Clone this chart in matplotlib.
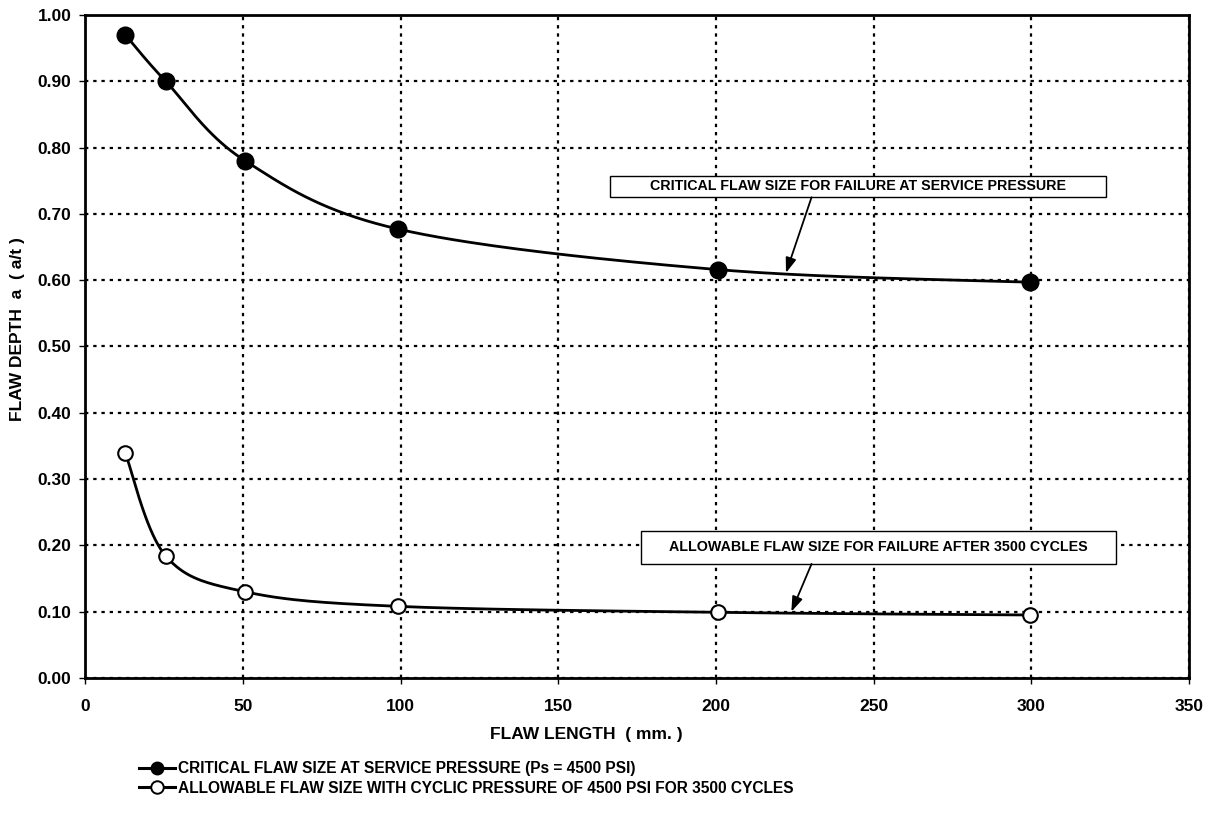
import numpy as np
import matplotlib
matplotlib.use("Agg")
import matplotlib.pyplot as plt
from matplotlib.lines import Line2D
from matplotlib.patches import Rectangle

# flaw length (mm)
flaw_length = [12.7, 25.5, 50.7, 99.3, 200.5, 299.5]
# flaw depth a/t
critical_depth = [0.970, 0.900, 0.780, 0.677, 0.616, 0.597]
allowable_depth = [0.339, 0.184, 0.130, 0.108, 0.099, 0.095]

critical_label = "CRITICAL FLAW SIZE AT SERVICE PRESSURE (Ps = 4500 PSI)"
allowable_label = "ALLOWABLE FLAW SIZE WITH CYCLIC PRESSURE OF 4500 PSI FOR 3500 CYCLES"
critical_note = "CRITICAL FLAW SIZE FOR FAILURE AT SERVICE PRESSURE"
allowable_note = "ALLOWABLE FLAW SIZE FOR FAILURE AFTER 3500 CYCLES"

plt.rcParams['font.family'] = ['Liberation Sans', 'DejaVu Sans']
plt.rcParams['font.weight'] = 'bold'


def smooth(xs, ys, n=40):
    # spreadsheet-style smoothed line: bezier segments with catmull-rom handles
    p = np.column_stack([xs, ys]).astype(float)
    p = np.vstack([p[0], p, p[-1]])
    out = []
    t = np.linspace(0, 1, n)[:, None]
    for i in range(1, len(p) - 2):
        p0, p1, p2, p3 = p[i - 1], p[i], p[i + 1], p[i + 2]
        c1 = p1 + (p2 - p0) / 6.0
        c2 = p2 - (p3 - p1) / 6.0
        seg = ((1 - t) ** 3) * p1 + 3 * ((1 - t) ** 2) * t * c1 + 3 * (1 - t) * t ** 2 * c2 + t ** 3 * p2
        out.append(seg if i == 1 else seg[1:])
    out = np.vstack(out)
    return out[:, 0], out[:, 1]


fig = plt.figure(figsize=(12.17, 8.19), dpi=100)
ax = fig.add_axes([0.0701, 0.1722, 0.9069, 0.8095])

for ys, face in [(critical_depth, 'black'), (allowable_depth, 'white')]:
    sx, sy = smooth(flaw_length, ys)
    ax.plot(sx, sy, color='black', lw=2.0, zorder=3)
    ax.plot(flaw_length, ys, ls='none', marker='o', ms=11.5 if face == 'black' else 10.5,
            mfc=face, mec='black', mew=1.5, zorder=4)

ax.set_xlim(0, 350)
ax.set_ylim(0, 1.0)
ax.set_xticks(np.arange(0, 351, 50))
ax.set_yticks(np.arange(0, 1.01, 0.1))
ax.set_yticklabels([f"{v:.2f}" for v in np.arange(0, 1.01, 0.1)])
ax.grid(True, color='black', ls=(0, (1.5, 2.2)), lw=1.6)
ax.set_axisbelow(True)
for s in ax.spines.values():
    s.set_linewidth(2.0)
ax.tick_params(direction='out', length=4, width=1.0, labelsize=12.5)
ax.tick_params(axis='x', pad=11)
ax.tick_params(axis='y', pad=6)
for lab in ax.get_xticklabels() + ax.get_yticklabels():
    lab.set_fontweight('bold')

# callout boxes
arrow = dict(arrowstyle='-|>,head_length=0.9,head_width=0.32', color='black', lw=1.3,
             shrinkA=0, shrinkB=0)
ax.add_patch(Rectangle((166.4, 0.725), 157.2, 0.0325, fc='white', ec='black', lw=1.0, zorder=5))
ax.text(245.0, 0.7415, critical_note, ha='center', va='center', fontsize=10.3,
        fontweight='bold', zorder=6)
ax.annotate('', xy=(222.2, 0.611), xytext=(230.3, 0.725), arrowprops=arrow, zorder=5)

ax.add_patch(Rectangle((176.1, 0.172), 150.6, 0.050, fc='white', ec='black', lw=1.0, zorder=5))
ax.text(251.6, 0.197, allowable_note, ha='center', va='center', fontsize=10.3,
        fontweight='bold', zorder=6)
ax.annotate('', xy=(223.9, 0.100), xytext=(230.3, 0.172), arrowprops=arrow, zorder=5)

fig.text(586 / 1217, 1 - 734 / 819, "FLAW LENGTH  ( mm. )", ha='center', va='center',
         fontsize=12.5, fontweight='bold')
fig.text(18 / 1217, 1 - 329 / 819, "FLAW DEPTH  a  ( a/t )", ha='center', va='center',
         rotation=90, fontsize=12.5, fontweight='bold')

handles = [Line2D([], [], color='black', lw=2.2, marker='o', ms=9, mfc='black', mec='black'),
           Line2D([], [], color='black', lw=2.2, marker='o', ms=9, mfc='white', mec='black', mew=1.4)]
fig.legend(handles, [critical_label, allowable_label], loc='upper left',
           bbox_to_anchor=(133 / 1217, 1 - 755 / 819), frameon=False, handlelength=2.3,
           handletextpad=0.2, labelspacing=0.3, borderaxespad=0,
           prop={'weight': 'bold', 'size': 11.2})

fig.savefig('out.png', dpi=100)
